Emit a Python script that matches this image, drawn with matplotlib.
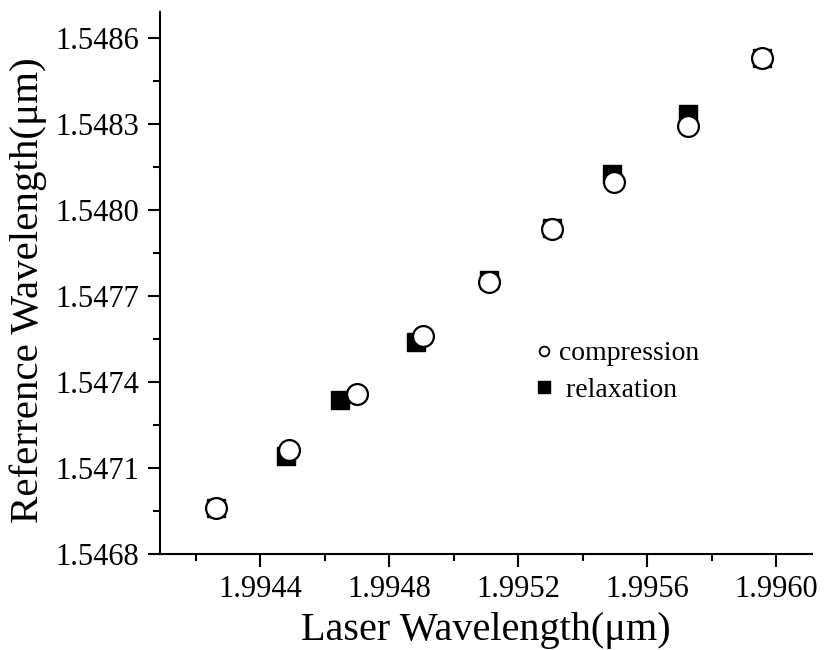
import matplotlib
matplotlib.use("Agg")
import matplotlib.pyplot as plt
from matplotlib.lines import Line2D
from matplotlib.ticker import MultipleLocator, FormatStrFormatter

# values
compression_x = [1.994264, 1.994490, 1.994700, 1.994904, 1.995110,
                 1.995305, 1.995497, 1.995725, 1.995954]
compression_y = [1.546961, 1.547164, 1.547359, 1.547559, 1.547748,
                 1.547933, 1.548097, 1.548293, 1.548531]
relaxation_x = [1.994264, 1.994480, 1.994647, 1.994882, 1.995110,
                1.995305, 1.995490, 1.995725, 1.995954]
relaxation_y = [1.546961, 1.547143, 1.547338, 1.547538, 1.547755,
                1.547936, 1.548125, 1.548335, 1.548531]

plt.rcParams["font.family"] = ["Liberation Serif", "DejaVu Serif"]

fig = plt.figure(figsize=(8.39, 6.5), dpi=100)
ax = fig.add_axes([0.1907, 0.1477, 0.7771, 0.8338])

ax.plot(relaxation_x, relaxation_y, linestyle="none", marker="s",
        markersize=13.5, color="black")
ax.plot(compression_x, compression_y, linestyle="none", marker="o",
        markersize=15, markerfacecolor="white", markeredgecolor="black",
        markeredgewidth=1.6)

ax.set_xlim(1.99409, 1.99611)
ax.set_ylim(1.5468, 1.54869)

ax.xaxis.set_major_locator(MultipleLocator(0.0004))
ax.xaxis.set_minor_locator(MultipleLocator(0.0002))
ax.yaxis.set_major_locator(MultipleLocator(0.0003))
ax.yaxis.set_minor_locator(MultipleLocator(0.00015))
ax.xaxis.set_major_formatter(FormatStrFormatter("%.4f"))
ax.yaxis.set_major_formatter(FormatStrFormatter("%.4f"))

ax.spines["top"].set_visible(False)
ax.spines["right"].set_visible(False)
for s in ("left", "bottom"):
    ax.spines[s].set_linewidth(1.5)

ax.tick_params(which="major", direction="out", length=9, width=1.5,
               labelsize=22, pad=6)
ax.tick_params(which="minor", direction="out", length=5, width=1.5)

ax.set_xlabel("Laser Wavelength(μm)", fontsize=29, labelpad=6)
ax.set_ylabel("Referrence Wavelength(μm)", fontsize=29.5)
ax.yaxis.set_label_coords(-0.174, 0.487)

handles = [
    Line2D([], [], linestyle="none", marker="o", markersize=7,
           markerfacecolor="white", markeredgecolor="black",
           markeredgewidth=1.3, label="compression"),
    Line2D([], [], linestyle="none", marker="s", markersize=8,
           color="black", label=" relaxation"),
]
fig.legend(handles=handles, loc="upper left",
           bbox_to_anchor=(0.618, 0.497), frameon=False, fontsize=20,
           handlelength=0.8, handletextpad=0.15, labelspacing=0.4,
           borderpad=0)

fig.savefig("out.png", dpi=100)
